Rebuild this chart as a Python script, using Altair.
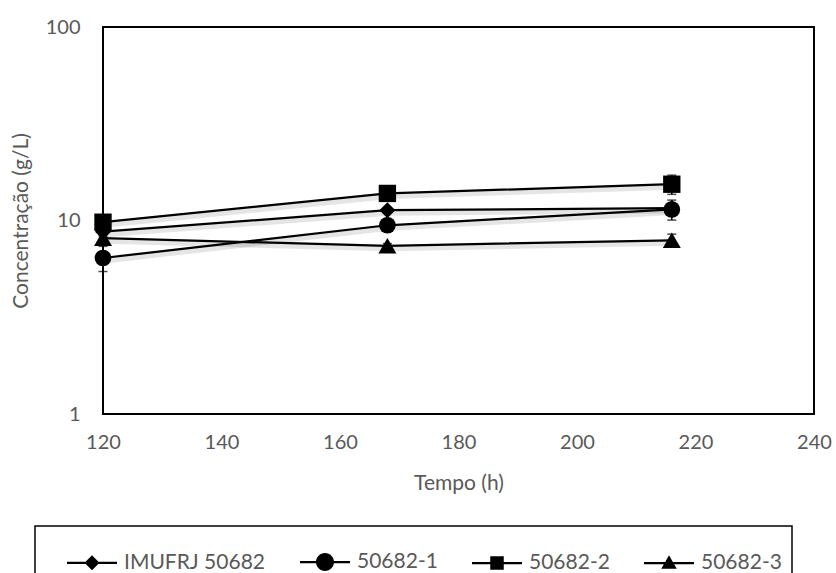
import altair as alt
import pandas as pd

# ---------------- data ----------------
series = ["IMUFRJ 50682", "50682-1", "50682-2", "50682-3"]
tempo = [120, 168, 216]
conc_imufrj = [8.75, 11.3, 11.6]
conc_1 = [6.4, 9.45, 11.4]
conc_2 = [9.8, 13.8, 15.4]
conc_3 = [8.1, 7.4, 7.9]
err_imufrj = [0.3, 0.3, 0.3]
err_1 = [0.95, 0.3, 1.35]
err_2 = [0.3, 0.3, 1.75]
err_3 = [0.2, 0.2, 0.6]
x_ticks = [120, 140, 160, 180, 200, 220, 240]
y_ticks = [1, 10, 100]

rows = []
for s, vals, errs in zip(series, [conc_imufrj, conc_1, conc_2, conc_3],
                         [err_imufrj, err_1, err_2, err_3]):
    for t, v, e in zip(tempo, vals, errs):
        rows.append({"serie": s, "tempo": t, "conc": v, "lo": v - e, "hi": v + e})
df = pd.DataFrame(rows)

FONT = "Lato"
GREY = "#595959"

# plot marker shapes / sizes
plot_shapes = ["diamond", "circle", "square", "triangle-up"]
plot_sizes = [256, 324, 289, 324]

# legend symbols: line (thin filled bar) with marker, unit box [-1,1]
BAR = "M-1,-0.045H1V0.045H-1Z"
legend_paths = [
    BAR + "M-0.30,0L0,-0.30L0.30,0L0,0.30Z",
    BAR + "M-0.36,0A0.36,0.36,0,1,1,0.36,0A0.36,0.36,0,1,1,-0.36,0Z",
    BAR + "M-0.27,-0.27H0.27V0.27H-0.27Z",
    BAR + "M0,-0.31L0.31,0.23L-0.31,0.23Z",
]

x_enc = alt.X("tempo:Q", scale=alt.Scale(domain=[120, 240], nice=False),
              axis=alt.Axis(values=x_ticks, title="Tempo (h)", labelPadding=18,
                            titlePadding=20, labelFontSize=20, titleFontSize=21,
                            labelFlush=False))
y_enc = alt.Y("conc:Q", scale=alt.Scale(type="log", domain=[1, 100], nice=False),
              axis=alt.Axis(values=y_ticks, title="Concentração (g/L)", labelPadding=23,
                            titlePadding=14, labelFontSize=20, titleFontSize=21,
                            format="d", labelFlush=False))

base = alt.Chart(df)

shadow_line = base.mark_line(color="#000000", opacity=0.1, strokeWidth=5,
                             xOffset=2, yOffset=3).encode(
    x=x_enc, y=y_enc, detail="serie:N")

err_rule = base.mark_rule(color="black", strokeWidth=1.5).encode(
    x="tempo:Q", y="lo:Q", y2="hi:Q")

caps = base.transform_fold(["lo", "hi"], as_=["k", "v"]).mark_tick(
    orient="horizontal", size=9, thickness=1.5, color="black").encode(
    x="tempo:Q", y=alt.Y("v:Q"))

lines = base.mark_line(color="black", strokeWidth=2.25).encode(
    x=x_enc, y=y_enc, detail="serie:N")

points = base.mark_point(filled=True, color="black", opacity=1).encode(
    x=x_enc, y=y_enc,
    shape=alt.Shape("serie:N", scale=alt.Scale(domain=series, range=plot_shapes), legend=None),
    size=alt.Size("serie:N", scale=alt.Scale(domain=series, range=plot_sizes), legend=None),
)

legend_layer = base.transform_filter("false").mark_point(
    filled=True, color="black", opacity=1).encode(
    x=x_enc, y=y_enc,
    shape=alt.Shape("serie:N", scale=alt.Scale(domain=series, range=legend_paths),
                    legend=alt.Legend(title=None, orient="none", legendX=-68, legendY=499,
                                      direction="horizontal", strokeColor="black",
                                      padding=10, symbolSize=2500, symbolOffset=21,
                                      labelOffset=6, columnPadding=12,
                                      labelFontSize=21, labelFont=FONT, labelColor=GREY,
                                      symbolFillColor="black", symbolOpacity=1)),
)

chart = alt.layer(shadow_line, err_rule, caps, lines, points, legend_layer).resolve_scale(
    shape="independent"
).properties(
    width=711, height=387,
    padding={"left": 103, "top": 27, "right": 22, "bottom": 159},
    autosize=alt.AutoSizeParams(type="none"),
).configure_view(
    stroke="black", strokeWidth=2
).configure_axis(
    labelFont=FONT, titleFont=FONT, labelColor=GREY, titleColor=GREY,
    grid=False, ticks=False, domain=False, titleFontWeight="normal", tickSize=0
).configure_legend(
    strokeWidth=1.5
)

chart.save("out.html", embed_options={"renderer": "svg", "actions": False})
